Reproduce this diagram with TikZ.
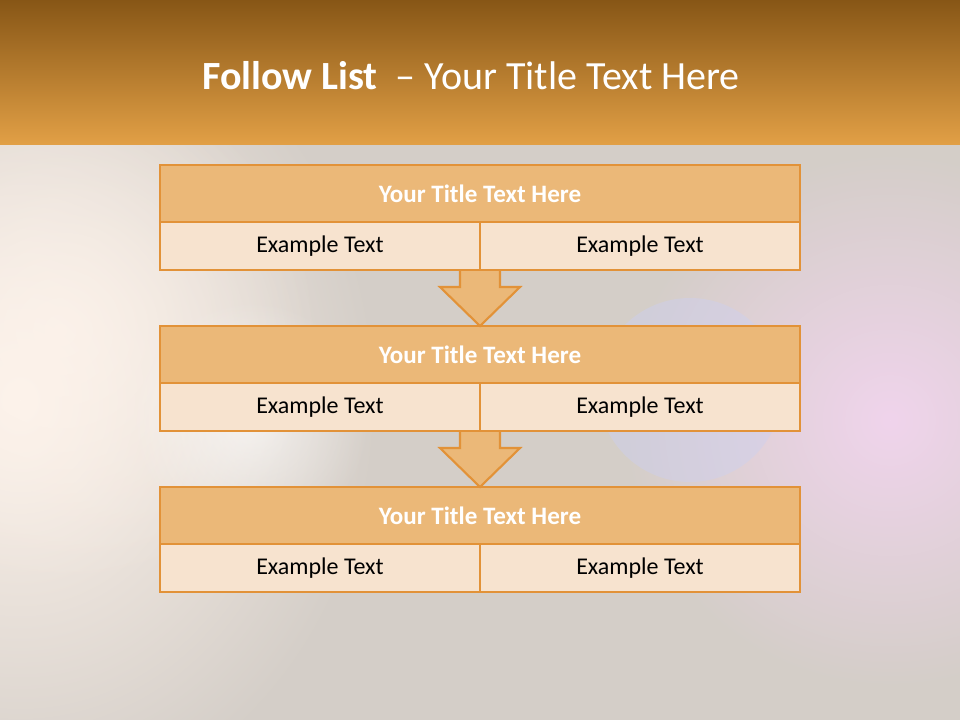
\documentclass[tikz,border=0pt]{standalone}
\usepackage{fontspec}
\setmainfont{Carlito}
\usepackage{xcolor}
\usepackage{tikz}
\usetikzlibrary{positioning, calc, fadings}
\definecolor{orangeline}{RGB}{226, 146, 56}
\definecolor{orangehead}{RGB}{235, 184, 120}
\definecolor{creamcell}{RGB}{247, 227, 207}
\definecolor{bandtop}{RGB}{135, 86, 22}
\definecolor{bandmid}{RGB}{198, 128, 38}
\definecolor{bandbot}{RGB}{226, 160, 70}
\definecolor{slidebg}{RGB}{212, 206, 200}
\definecolor{peachglow}{RGB}{253, 243, 235}
\definecolor{pinkglow}{RGB}{240, 212, 236}
\definecolor{blueglow}{RGB}{205, 208, 240}
\tikzfading[name=softglow, inner color=transparent!0, outer color=transparent!100]

\begin{document}
\begin{tikzpicture}[x=0.75pt, y=-0.75pt,
    head/.style={rectangle, draw=orangeline, fill=orangehead, line width=1.6pt, minimum width=480pt, minimum height=42.75pt, outer sep=0pt, text=white, font=\fontsize{18.8}{22}\selectfont\bfseries},
    cell/.style={rectangle, draw=orangeline, fill=creamcell, line width=1.6pt, minimum width=240pt, minimum height=36pt, outer sep=0pt, font=\fontsize{18}{22}\selectfont},
    downarrow/.style={draw=orangeline, fill=orangehead, line width=1.6pt, line join=miter},
    glow/.style={path fading=softglow}
]
\useasboundingbox (0,0) rectangle (960,720);
\fill[slidebg] (0,145) rectangle (960,720);
\begin{scope}
\clip (0,145) rectangle (960,720);
\fill[peachglow, glow] (20,400) ellipse (360 and 420);
\fill[peachglow, glow, opacity=0.8] (60,330) ellipse (260 and 260);
\fill[white, glow, opacity=0.6] (250,420) circle (120);
\fill[pinkglow, glow] (890,420) circle (270);
\fill[blueglow, opacity=0.45] (690,390) circle (92);
\end{scope}
\shade[top color=bandtop, middle color=bandmid, bottom color=bandbot] (0,0) rectangle (960,145);
\node[text=white, font=\fontsize{30}{36}\selectfont] (titel) at (471,76) {\textbf{Follow List}~~-- Your Title Text Here};

\node[head] (t1) at (480,193.5) {Your Title Text Here};
\node[cell, below right=0pt of t1.south west] (l1) {Example Text};
\node[cell, right=0pt of l1] (r1) {Example Text};

\node[head, below=78pt of t1] (t2) {Your Title Text Here};
\node[cell, below right=0pt of t2.south west] (l2) {Example Text};
\node[cell, right=0pt of l2] (r2) {Example Text};

\node[head, below=78pt of t2] (t3) {Your Title Text Here};
\node[cell, below right=0pt of t3.south west] (l3) {Example Text};
\node[cell, right=0pt of l3] (r3) {Example Text};

\draw[downarrow] ($(l1.south east)+(-20,1.1)$) -- ($(t2.north)+(-20,-39)$) -- ($(t2.north)+(-40,-39)$) -- (t2.north) -- ($(t2.north)+(40,-39)$) -- ($(t2.north)+(20,-39)$) -- ($(l1.south east)+(20,1.1)$);
\draw[downarrow] ($(l2.south east)+(-20,1.1)$) -- ($(t3.north)+(-20,-39)$) -- ($(t3.north)+(-40,-39)$) -- (t3.north) -- ($(t3.north)+(40,-39)$) -- ($(t3.north)+(20,-39)$) -- ($(l2.south east)+(20,1.1)$);
\end{tikzpicture}
\end{document}
